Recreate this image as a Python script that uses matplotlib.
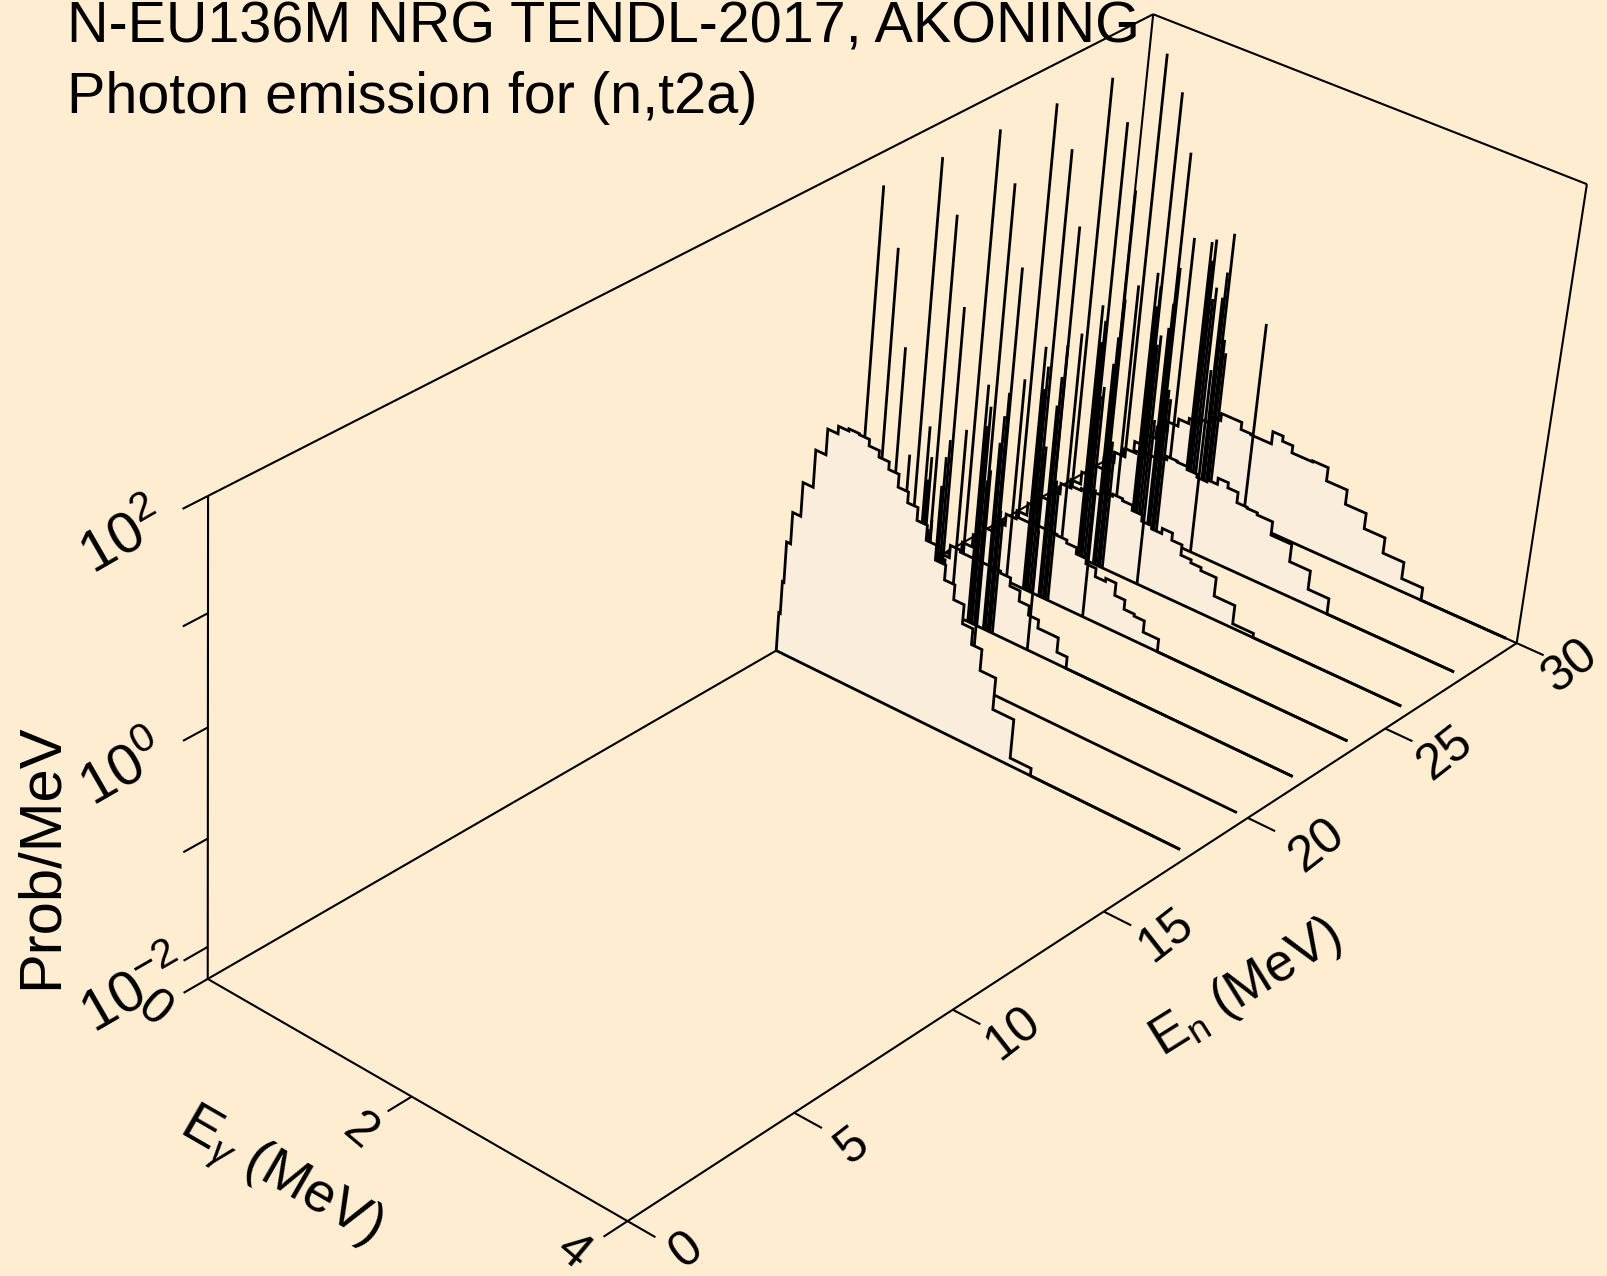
import numpy as np
import matplotlib
matplotlib.use('Agg')
import matplotlib.pyplot as plt
from mpl_toolkits.mplot3d.art3d import Poly3DCollection, Line3DCollection

plt.rcParams['font.family'] = ['Liberation Sans', 'DejaVu Sans']
plt.rcParams['mathtext.fontset'] = 'custom'
plt.rcParams['mathtext.rm'] = 'Liberation Sans'
plt.rcParams['mathtext.it'] = 'Liberation Sans:italic'
plt.rcParams['mathtext.bf'] = 'Liberation Sans:bold'

BG = '#FFEDD2'
FILL = '#FAEDDB'
W, H = 1607, 1276

title_lines = ['N-EU136M NRG TENDL-2017, AKONING', 'Photon emission for (n,t2a)']
log_min = np.log10(0.005)
log_max = 2.0
en_max = 30.0
eg_max = 4.0
en_ticks = [0, 5, 10, 15, 20, 25, 30]
eg_ticks = [0, 2, 4]
log_ticks = [-2, -1, 0, 1, 2]
eg_end = 3.9

# Continuum spectra: bin edges (MeV) and log10(Prob/MeV) per bin
en_values = [30, 28, 26, 24, 22, 20, 18]
edges_18 = [0.0, 0.015, 0.03, 0.07, 0.15, 0.25, 0.35, 0.45, 0.55, 0.65, 0.75, 0.85, 0.95, 1.05, 1.15, 1.25,
            1.35, 1.45, 1.55, 1.65, 1.75, 1.85, 1.95, 2.10, 2.30, 2.50]
log_18 = [-1.93, -1.62, -1.23, -0.93, -0.61, -0.26, -0.02, 0.05, 0.07, 0.06, 0.00, -0.06, -0.13, -0.25, -0.35,
          -0.47, -0.61, -0.75, -0.89, -1.03, -1.21, -1.36, -1.56, -1.86, -2.23]
edges_22 = [0.07, 0.15, 0.25, 0.35, 0.45, 0.55, 0.65, 0.95, 1.05, 1.15, 1.25, 1.35, 1.45, 1.65, 1.75]
log_22 = [-2.22, -2.13, -2.01, -1.89, -1.78, -1.66, -1.68, -1.68, -1.70, -1.78, -1.88, -1.97, -2.05, -2.19]
edges_24 = [0.07, 0.15, 0.25, 0.35, 0.45, 0.55, 0.65, 0.85, 0.95, 1.05, 1.15, 1.25, 1.35, 1.45, 1.55, 1.65, 1.75,
            1.85, 1.95, 2.10]
log_24 = [-2.22, -2.13, -2.01, -1.89, -1.78, -1.67, -1.65, -1.64, -1.64, -1.65, -1.68, -1.74, -1.79, -1.87, -1.84,
          -1.96, -2.05, -2.07, -2.18]
edges_26 = [0.07, 0.15, 0.25, 0.35, 0.45, 0.55, 0.65, 0.75, 0.85, 0.95, 1.05, 1.15, 1.25, 1.35, 1.45, 1.55, 1.65,
            1.75, 1.85, 1.95, 2.10, 2.30, 2.50]
log_26 = [-2.22, -2.13, -2.01, -1.89, -1.78, -1.68, -1.66, -1.64, -1.62, -1.58, -1.56, -1.58, -1.63, -1.69, -1.72,
          -1.67, -1.74, -1.84, -1.87, -1.90, -2.08, -2.26]
edges_28 = [0.07, 0.15, 0.25, 0.35, 0.45, 0.55, 0.65, 0.75, 0.85, 0.95, 1.05, 1.15, 1.25, 1.35, 1.45, 1.55, 1.65,
            1.75, 1.85, 1.95, 2.10, 2.30, 2.50, 2.70]
log_28 = [-2.22, -2.13, -2.01, -1.89, -1.78, -1.68, -1.60, -1.58, -1.56, -1.53, -1.50, -1.51, -1.54, -1.57, -1.55,
          -1.49, -1.54, -1.64, -1.65, -1.67, -1.80, -1.97, -2.15]
edges_30 = [0.07, 0.15, 0.25, 0.35, 0.45, 0.55, 0.65, 0.75, 0.85, 0.95, 1.05, 1.15, 1.25, 1.35, 1.45, 1.55, 1.65,
            1.75, 1.85, 1.95, 2.10, 2.30, 2.50, 2.70, 2.90, 3.10]
log_30 = [-2.22, -2.13, -2.01, -1.89, -1.78, -1.68, -1.61, -1.56, -1.52, -1.45, -1.38, -1.38, -1.45, -1.46, -1.46,
          -1.34, -1.39, -1.46, -1.46, -1.45, -1.58, -1.72, -1.87, -2.02, -2.18]
spectra = {18: (edges_18, log_18), 22: (edges_22, log_22), 24: (edges_24, log_24),
           26: (edges_26, log_26), 28: (edges_28, log_28), 30: (edges_30, log_30)}

# Discrete lines: energies (MeV) and log10 height at En = 20, 22, 24, 26, 28, 30
spike_en = [20, 22, 24, 26, 28, 30]
spike_eg = [0.17, 0.35, 0.49, 0.61, 0.78, 0.80, 0.82, 0.845, 0.87, 0.935, 0.955, 0.98, 1.00, 1.025, 1.37]
spike_log = [
    [1.84, 1.82, 1.80, 1.77, 1.74, 1.70],
    [1.35, 1.37, 1.38, 1.42, 1.40, 1.41],
    [0.50, 0.58, 0.66, 0.76, 0.82, 0.90],
    [-0.45, -0.52, -0.34, -0.20, -0.03, 0.14],
    [-0.11, -0.02, 0.04, 0.14, 0.16, 0.17],
    [-0.60, -0.40, -0.35, -0.20, -0.15, 0.00],
    [-0.38, -0.21, -0.13, 0.01, 0.05, 0.21],
    [-1.05, -0.90, -0.95, -0.70, -0.50, -0.35],
    [-0.95, -0.79, -0.87, -0.60, -0.40, -0.23],
    [-0.60, -0.50, -0.45, -0.35, -0.30, -0.30],
    [-0.32, -0.24, -0.17, -0.09, -0.06, -0.05],
    [-0.15, -0.01, 0.14, 0.28, 0.29, 0.33],
    [-1.17, -1.12, -1.14, -1.07, -0.87, -0.68],
    [-1.25, -1.20, -1.20, -1.15, -0.95, -0.80],
    [-1.18, -1.14, -1.06, -0.70, -0.52, -0.37],
]

# Camera: where known axis points fall in the picture (En, Egamma, log10 P -> pixel)
camera_points = [
    (0, 0, log_min, 208, 979), (0, 0, 2, 208, 496), (0, 0, 1, 208, 613), (0, 0, 0, 208, 727),
    (0, 0, -1, 208, 839), (0, 0, -2, 208, 947), (0, 4, log_min, 627, 1221), (0, 2, log_min, 410.6, 1096.7),
    (5, 4, log_min, 795, 1112), (10, 4, log_min, 953, 1010), (15, 4, log_min, 1104, 912),
    (20, 4, log_min, 1248, 818), (25, 4, log_min, 1384.4, 728.3), (30, 4, log_min, 1517, 643),
    (30, 4, 2, 1587, 184.5), (30, 0, 2, 1153, 14)]


def camera_matrix(points):
    rows, rhs = [], []
    for X, Y, Z, u, v in points:
        rows.append([X, Y, Z, 1, 0, 0, 0, 0, -u * X, -u * Y, -u * Z])
        rhs.append(u)
        rows.append([0, 0, 0, 0, X, Y, Z, 1, -v * X, -v * Y, -v * Z])
        rhs.append(v)
    p = np.linalg.lstsq(np.array(rows), np.array(rhs), rcond=None)[0]
    P = np.append(p, 1).reshape(3, 4)
    best, bestdet = None, 0.0
    for e in np.eye(4):
        cand = np.vstack([P[0], P[1], e * 1e-3, P[2]])
        d = abs(np.linalg.det(cand))
        if d > bestdet:
            best, bestdet = cand, d
    return best


fig = plt.figure(figsize=(W / 100, H / 100), dpi=100, facecolor=BG)
ax = fig.add_axes([0, 0, 1, 1], projection='3d', computed_zorder=False, facecolor=BG)
ax.set_axis_off()
PROJ = camera_matrix(camera_points)
ax.get_proj = lambda: PROJ
ax.apply_aspect = lambda *a, **k: None

LW_BOX = 1.5
LW = 2.0


def draw_line(points, lw, z):
    lc = Line3DCollection([list(points)], colors='black', linewidths=lw, zorder=z,
                          capstyle='butt', joinstyle='miter')
    ax.add_collection3d(lc, autolim=False)


def seg(p, q, lw=LW_BOX, z=1):
    draw_line([p, q], lw, z)


# Frame and floor
seg((0, 0, log_min), (0, 0, log_max))
seg((0, 0, log_max), (en_max, 0, log_max))
seg((en_max, 0, log_max), (en_max, eg_max, log_max))
seg((en_max, eg_max, log_max), (en_max, eg_max, log_min))
seg((en_max, 0, log_max), (en_max, 0, log_min))
seg((0, 0, log_min), (en_max, 0, log_min))
seg((0, 0, log_min), (0, eg_max, log_min))
seg((0, eg_max, log_min), (en_max, eg_max, log_min))
seg((en_max, 0, log_min), (en_max, eg_max, log_min))
# Ticks
for t in log_ticks:
    seg((0, 0, t), (-0.7, 0, t))
for t in eg_ticks:
    seg((0, t, log_min), (-0.7, t, log_min))
for t in en_ticks:
    seg((t, eg_max, log_min), (t, eg_max + 0.25, log_min))

# Spectra back to front; every spectrum hides what lies behind it
zo = 2
for en in en_values:
    if en in spectra:
        edges, vals = spectra[en]
        xs = [0.0]
        ys = [log_min]
        for a, b, v in zip(edges[:-1], edges[1:], vals):
            xs += [a, b]
            ys += [v, v]
        xs += [edges[-1], eg_end]
        ys += [log_min, log_min]
        verts = list(zip([en] * len(xs), xs, ys))
        poly = Poly3DCollection([verts], facecolors=FILL, edgecolors='none', linewidths=0, zorder=zo)
        ax.add_collection3d(poly, autolim=False)
        zo += 1
        draw_line(verts, LW, zo)
    zo += 1
    draw_line([(en, 0, log_min), (en, eg_end, log_min)], LW, zo)
    if en in spike_en:
        j = spike_en.index(en)
        for eg, row in zip(spike_eg, spike_log):
            draw_line([(en, eg, log_min), (en, eg, row[j])], LW, zo)
    zo += 1

ax.viewLim.intervalx = (0, W)
ax.viewLim.intervaly = (H, 0)


def label(x, y, s, size, rot, **kw):
    fig.text(x / W, 1 - y / H, s, fontsize=size, rotation=rot, ha='center', va='center',
             rotation_mode='anchor', color='black', **kw)


# Title
for yb, line in zip((43, 113), title_lines):
    fig.text(67 / W, 1 - yb / H, line, fontsize=41.4, ha='left', va='baseline', color='black')

# Tick labels
for (x, y), s in zip([(123, 540), (124, 772), (135, 993)], [r'$\mathit{10^{2}}$', r'$\mathit{10^{0}}$', r'$\mathit{10^{-2}}$']):
    label(x, y, s, 42, 30)
for (x, y), t in zip([(154, 1010), (359, 1132), (573, 1252)], eg_ticks):
    label(x, y, str(t), 36, -40)
for (x, y), t in zip([(687, 1250), (853, 1146), (1013, 1034), (1166, 936), (1317, 846), (1445, 754), (1570, 667)], en_ticks):
    label(x, y, str(t), 36, 38)

# Axis titles
label(1246, 988, r'E$_{\mathrm{n}}$ (MeV)', 38, 32)
label(280, 1178, r'E$_{\gamma}$ (MeV)', 40, -30)
label(41, 856, 'Prob/MeV', 43, 90)

fig.savefig('out.png', dpi=100, facecolor=BG)
